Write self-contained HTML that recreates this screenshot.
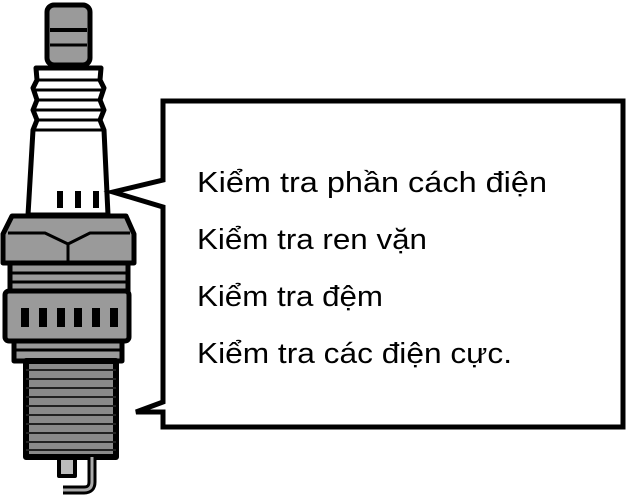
<!DOCTYPE html>
<html><head><meta charset="utf-8"><style>
html,body{margin:0;padding:0;background:#fff;width:630px;height:503px;overflow:hidden}
svg{display:block}
text{font-family:"Liberation Sans",Arial,sans-serif;font-size:29px;fill:#000}
</style></head><body>
<svg width="630" height="503" viewBox="0 0 630 503">
<g stroke="#000" stroke-linejoin="round">
  <!-- terminal -->
  <rect x="47" y="5" width="43" height="60" rx="7" fill="#9a9a9a" stroke-width="5"/>
  <line x1="50" y1="30" x2="87" y2="30" stroke-width="4"/>
  <line x1="50" y1="45" x2="87" y2="45" stroke-width="3"/>
  <!-- insulator -->
  <path d="M36 68 L101 68 L100 80 L104 88 L100 100 L104 110 L100 120 L104 130 L108 215 L28 215 L33 130 L37 120 L33 110 L37 100 L33 88 L37 80 Z" fill="#fff" stroke-width="5"/>
  <line x1="36" y1="80" x2="101" y2="80" stroke-width="3"/>
  <line x1="35" y1="90" x2="102" y2="90" stroke-width="3"/>
  <line x1="35" y1="100" x2="102" y2="100" stroke-width="3"/>
  <line x1="35" y1="110" x2="102" y2="110" stroke-width="3"/>
  <line x1="35" y1="120" x2="102" y2="120" stroke-width="3"/>
  <line x1="34" y1="130" x2="103" y2="130" stroke-width="3"/>
  <rect x="57" y="191" width="6" height="17" fill="#000" stroke="none"/>
  <rect x="75" y="191" width="6" height="17" fill="#000" stroke="none"/>
  <rect x="93" y="191" width="6" height="17" fill="#000" stroke="none"/>
  <!-- hex -->
  <path d="M12 216 L126 216 L134 234 L134 263 L3 263 L3 234 Z" fill="#9a9a9a" stroke-width="5"/>
  <path d="M8 233 L45 233 L68 244 L90 233 L130 233" fill="none" stroke-width="3"/>
  <line x1="68" y1="244" x2="68" y2="263" stroke-width="3"/>
  <!-- rings -->
  <rect x="10" y="263" width="118" height="28" fill="#9a9a9a" stroke-width="5"/>
  <line x1="12" y1="273" x2="126" y2="273" stroke-width="3"/>
  <line x1="12" y1="282" x2="126" y2="282" stroke-width="3"/>
  <!-- body -->
  <rect x="5" y="291" width="124" height="50" rx="4" fill="#9a9a9a" stroke-width="5"/>
  <g fill="#000" stroke="none">
    <rect x="21" y="308" width="8" height="19"/><rect x="39" y="308" width="8" height="19"/>
    <rect x="57" y="308" width="8" height="19"/><rect x="74" y="308" width="8" height="19"/>
    <rect x="92" y="308" width="8" height="19"/><rect x="110" y="308" width="8" height="19"/>
  </g>
  <rect x="14" y="341" width="108" height="20" fill="#9a9a9a" stroke-width="5"/>
  <line x1="16" y1="350" x2="120" y2="350" stroke-width="3"/>
  <!-- threads -->
  <rect x="26" y="361" width="90" height="96" fill="#8a8a8a" stroke-width="6"/>
  <g stroke="#222" stroke-width="2">
    <line x1="26" y1="370" x2="116" y2="370"/><line x1="26" y1="379" x2="116" y2="379"/>
    <line x1="26" y1="388" x2="116" y2="388"/><line x1="26" y1="397" x2="116" y2="397"/>
    <line x1="26" y1="406" x2="116" y2="406"/><line x1="26" y1="415" x2="116" y2="415"/>
    <line x1="26" y1="424" x2="116" y2="424"/><line x1="26" y1="433" x2="116" y2="433"/>
    <line x1="26" y1="442" x2="116" y2="442"/><line x1="26" y1="450" x2="116" y2="450"/>
  </g>
  <!-- electrodes -->
  <rect x="59" y="458" width="16" height="18" fill="#bbb" stroke-width="4"/>
  <path d="M92 457 L92 482 Q92 490 84 490 L63 490" fill="none" stroke-width="9"/>
  <path d="M92 457 L92 482 Q92 490 84 490 L63 490" fill="none" stroke="#aaa" stroke-width="3"/>
</g>
<path d="M163 101 L623 101 L623 427 L163 427 L163 412 L136 412 L163 402 L163 207 L113 192 L163 180 Z" fill="#fff" stroke="#000" stroke-width="5" stroke-linejoin="miter"/>
<text x="197" y="192" textLength="350" lengthAdjust="spacingAndGlyphs">Kiểm tra  phần cách điện</text>
<text x="197" y="249" textLength="230" lengthAdjust="spacingAndGlyphs">Kiểm tra ren vặn</text>
<text x="197" y="306" textLength="186" lengthAdjust="spacingAndGlyphs">Kiểm tra đệm</text>
<text x="197" y="363" textLength="315" lengthAdjust="spacingAndGlyphs">Kiểm tra các điện cực.</text>
</svg>
</body></html>
